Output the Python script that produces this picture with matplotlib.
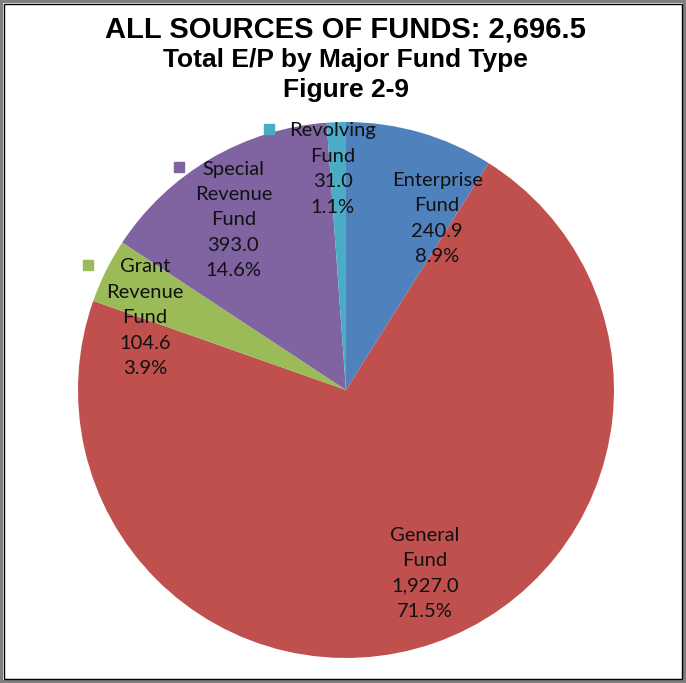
import matplotlib.pyplot as plt
from matplotlib.patches import Rectangle

# fund types, clockwise from 12 o'clock
funds = ['Enterprise\nFund', 'General\nFund', 'Grant\nRevenue\nFund',
         'Special\nRevenue\nFund', 'Revolving\nFund']
values = [240.9, 1927.0, 104.6, 393.0, 31.0]
pcts = ['8.9%', '71.5%', '3.9%', '14.6%', '1.1%']
colors = ['#4F81BD', '#C0504D', '#9BBB59', '#8064A2', '#4BACC6']

# label positions in axes data coords (pie radius = 1); key gap in pixels (None = no key)
label_pos = [(0.34, 0.64), (0.295, -0.685), (-0.75, 0.27), (-0.42, 0.635), (-0.05, 0.825)]
key_gap = [None, None, 32, 23, 20]

fig = plt.figure(figsize=(6.86, 6.83), dpi=100)
ax = fig.add_axes([0.1137, 0.0366, 0.7813, 0.7848])

ax.pie(values, colors=colors, startangle=90, counterclock=False, radius=1.0,
       wedgeprops=dict(linewidth=0))
ax.set_xlim(-1, 1)
ax.set_ylim(-1, 1)
ax.set_aspect('equal')
ax.axis('off')

renderer = fig.canvas.get_renderer()
fs = 14.5
ls = 1.6

for name, val, pct, (x, y), gap, c in zip(funds, values, pcts, label_pos, key_gap, colors):
    txt = '{}\n{:,.1f}\n{}'.format(name, val, pct)
    ax.text(x, y, txt, ha='center', va='center', fontsize=fs,
            family='Lato', color='#111111', linespacing=ls)
    if gap is not None:
        # key square sits just left of the first line
        first = name.split('\n')[0]
        n_lines = txt.count('\n') + 1
        line_h = 26.5 / 268.0
        y_first = y + (n_lines - 1) / 2 * line_h
        tmp = ax.text(x, y_first, first, ha='center', va='center', fontsize=fs, family='Lato')
        bb = tmp.get_window_extent(renderer)
        tmp.remove()
        kx = ax.transData.inverted().transform((bb.x0 - gap, 0))[0]
        ax.plot(kx, y_first, marker='s', ms=7.5, color=c, clip_on=False)

fig.text(0.504, 0.957, 'ALL SOURCES OF FUNDS: 2,696.5', ha='center', va='center',
         fontsize=21, fontweight='bold', family='Liberation Sans')
fig.text(0.504, 0.912, 'Total E/P by Major Fund Type', ha='center', va='center',
         fontsize=19, fontweight='bold', family='Liberation Sans')
fig.text(0.504, 0.868, 'Figure 2-9', ha='center', va='center',
         fontsize=19, fontweight='bold', family='Liberation Sans')

# screenshot frame
fig.patches.append(Rectangle((0.002, 0.002), 0.996, 0.996, transform=fig.transFigure,
                             fill=False, edgecolor='#7f7f7f', linewidth=3))
fig.patches.append(Rectangle((0.006, 0.006), 0.988, 0.988, transform=fig.transFigure,
                             fill=False, edgecolor='black', linewidth=1))

fig.savefig('out.png', dpi=100)
